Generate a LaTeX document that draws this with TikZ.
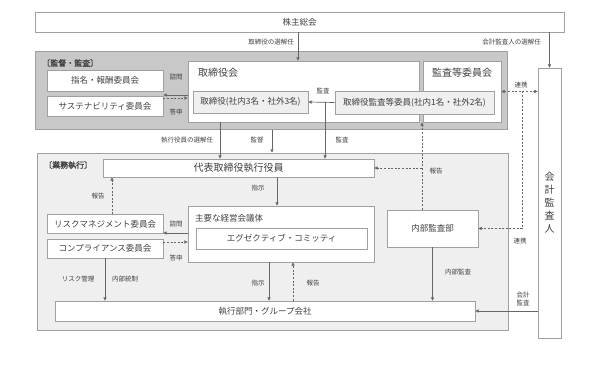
\documentclass[tikz,border=0pt]{standalone}
\usepackage{fontspec}
\setmainfont{Noto Sans CJK JP}[AutoFakeBold=1.5]
\usetikzlibrary{arrows.meta}
\definecolor{lineg}{HTML}{666666}
\definecolor{edgeg}{HTML}{A0A0A0}
\definecolor{txtg}{HTML}{404040}
\definecolor{areadark}{HTML}{C8C8C8}
\definecolor{arealight}{HTML}{EFEFEF}
\tikzset{
  orgbox/.style={draw=edgeg,line width=.8pt,fill=white,inner sep=0pt,text=txtg,font=\fontsize{8.5}{10}\selectfont},
  orgboxgray/.style={orgbox,fill=arealight},
  area/.style={draw=edgeg,line width=1pt,inner sep=0pt},
  boxtitle/.style={text=txtg,font=\fontsize{10}{12}\selectfont,inner sep=0pt},
  lbl/.style={text=txtg,font=\fontsize{6.5}{7.5}\selectfont,inner sep=0pt,align=center},
  arealbl/.style={text=txtg,font=\fontsize{8}{9}\selectfont\bfseries,inner sep=0pt,anchor=west},
  arr/.style={-{Triangle[length=3.2pt,width=3.2pt]},draw=lineg,line width=.7pt},
  darr/.style={arr,dashed,dash pattern=on 2pt off 1.6pt},
  ddarr/.style={darr,{Triangle[length=3.2pt,width=3.2pt]}-{Triangle[length=3.2pt,width=3.2pt]}}
}
\begin{document}
\begin{tikzpicture}[x=1pt,y=-1pt]
  \useasboundingbox (0,0) rectangle (593,390);
  % areas
  \node[area,fill=areadark,minimum width=472,minimum height=78] (kantoku) at (271,91) {};
  \node[area,fill=arealight,minimum width=471,minimum height=177] (gyomu) at (272.5,241.5) {};
  \node[arealbl] (kantokulbl) at (42,63) {〔監督・監査〕};
  \node[arealbl] (gyomulbl) at (44,165) {〔業務執行〕};

  % boxes
  \node[orgbox,minimum width=529,minimum height=20] (kabu) at (299.5,22) {株主総会};
  \node[orgbox,minimum width=23,minimum height=270,align=center,
        font=\fontsize{10}{13}\selectfont] (kaikei) at (549.5,203) {会\\計\\監\\査\\人};
  \node[orgbox,minimum width=116,minimum height=21] (shimei) at (105,80.5) {指名・報酬委員会};
  \node[orgbox,minimum width=116,minimum height=20] (sust) at (105,106) {サステナビリティ委員会};
  \node[orgbox,minimum width=231,minimum height=61] (torikai) at (303.5,91.5) {};
  \node[boxtitle,anchor=west] (torikaittl) at (198,73) {取締役会};
  \node[orgbox,minimum width=78,minimum height=61] (kansakai) at (462,91.5) {};
  \node[boxtitle] (kansakaittl) at (462,73) {監査等委員会};
  \node[orgboxgray,minimum width=115,minimum height=22] (torinai) at (250.5,102) {取締役(社内3名・社外3名)};
  \node[orgboxgray,minimum width=159,minimum height=23] (kansain) at (414.5,102.5) {取締役監査等委員(社内1名・社外2名)};

  \node[orgbox,minimum width=271,minimum height=18,font=\fontsize{10}{12}\selectfont] (daihyo) at (238.5,168) {代表取締役執行役員};
  \node[orgbox,minimum width=116,minimum height=19] (risk) at (105,224) {リスクマネジメント委員会};
  \node[orgbox,minimum width=116,minimum height=19] (comp) at (105,248.5) {コンプライアンス委員会};
  \node[orgbox,minimum width=186,minimum height=56] (shuyou) at (281,234) {};
  \node[boxtitle,anchor=west,font=\fontsize{8.5}{10}\selectfont] (shuyouttl) at (195,218) {主要な経営会議体};
  \node[orgbox,minimum width=171,minimum height=21] (exec) at (281.5,238.5) {エグゼクティブ・コミッティ};
  \node[orgbox,minimum width=91,minimum height=37] (naibu) at (432.5,228.5) {内部監査部};
  \node[orgbox,minimum width=420,minimum height=20] (shikko) at (265,311) {執行部門・グループ会社};

  % connectors
  \draw[arr] (kabu.south -| 298,0) -- (torikai.north -| 298,0);
  \draw[arr] (kabu.south -| kaikei.north) -- (kaikei.north);
  \draw[arr] (torikai.west |- 0,95) -- (shimei.east |- 0,95);
  \draw[darr] (sust.east |- 0,98) -- (torikai.west |- 0,98);
  \coordinate (kj) at (325,102);
  \draw[arr] (kansain.west) -- (torinai.east);
  \draw[arr] (kj) -- (daihyo.north -| kj);
  \draw[arr] (torikai.south -| 220,0) -- (daihyo.north -| 220,0);
  \draw[arr] (kantoku.south -| 272,0) -- (gyomu.north -| 272,0);
  \draw[darr] (naibu.north -| 422,0) -- (kansakai.south -| 422,0);
  \draw[darr] (daihyo.east -| 422,0) -- (daihyo.east);
  \draw[ddarr] (kansakai.east) -- (kansakai.east -| kaikei.west);
  \draw[darr] (kansakai.east -| 522,0) |- (naibu.east);
  \draw[arr] (daihyo.south -| 277,0) -- (shuyou.north -| 277,0);
  \draw[darr] (risk.north -| 112,0) -- (daihyo.south -| 112,0);
  \draw[arr] (shuyou.west |- 0,233) -- (risk.east |- 0,233);
  \draw[darr] (comp.east |- 0,242) -- (shuyou.west |- 0,242);
  \draw[arr] (comp.south) -- (shikko.north -| comp.south);
  \draw[arr] (shuyou.south -| 269,0) -- (shikko.north -| 269,0);
  \draw[darr] (shikko.north -| 293,0) -- (shuyou.south -| 293,0);
  \draw[arr] (naibu.south) -- (shikko.north -| naibu.south);
  \draw[arr] (kaikei.west |- shikko.east) -- (shikko.east);

  % labels
  \node[lbl,anchor=east] (l1) at (294,42) {取締役の選解任};
  \node[lbl,anchor=east] (l2) at (541,42) {会計監査人の選解任};
  \node[lbl] (l3) at (176,77) {諮問};
  \node[lbl] (l4) at (176,112) {答申};
  \node[lbl] (l5) at (323,91) {監査};
  \node[lbl] (l6) at (187,140) {執行役員の選解任};
  \node[lbl] (l7) at (257,140) {監督};
  \node[lbl] (l8) at (342,140) {監査};
  \node[lbl] (l9) at (436,171) {報告};
  \node[lbl] (l10) at (521,85) {連携};
  \node[lbl] (l11) at (520,241) {連携};
  \node[lbl] (l12) at (258,188) {指示};
  \node[lbl] (l13) at (98,196) {報告};
  \node[lbl] (l14) at (176,224) {諮問};
  \node[lbl] (l15) at (176,258) {答申};
  \node[lbl] (l16) at (78,279) {リスク管理};
  \node[lbl] (l17) at (125,279) {内部統制};
  \node[lbl] (l18) at (258,283) {指示};
  \node[lbl] (l19) at (313,283) {報告};
  \node[lbl] (l20) at (458,272) {内部監査};
  \node[lbl] (l21) at (523,299) {会計\\監査};
\end{tikzpicture}
\end{document}
